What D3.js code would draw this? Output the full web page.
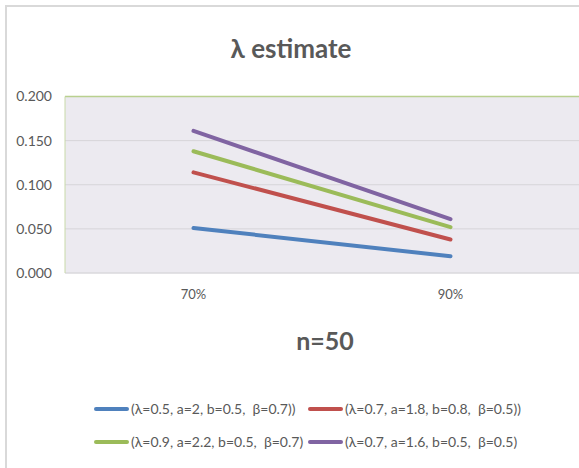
<!DOCTYPE html>
<html>
<head>
<meta charset="utf-8">
<script src="https://cdn.jsdelivr.net/npm/d3@7"></script>
<style>
  html, body { margin: 0; padding: 0; background: #fff; }
  svg { display: block; font-family: Lato, "Open Sans", sans-serif; }
</style>
</head>
<body>
<svg id="chart" width="579" height="468"></svg>
<script>
// Censoring levels on the x axis
const categories = ["70%", "90%"];
// Series labels (parameter settings)
const seriesNames = [
  "(λ=0.5, a=2, b=0.5,  β=0.7))",
  "(λ=0.7, a=1.8, b=0.8,  β=0.5))",
  "(λ=0.9, a=2.2, b=0.5,  β=0.7)",
  "(λ=0.7, a=1.6, b=0.5,  β=0.5)"
];
// Estimated λ per series, one value per category
const seriesA = [0.051, 0.019];
const seriesB = [0.114, 0.038];
const seriesC = [0.138, 0.052];
const seriesD = [0.161, 0.061];
const yTicks = [0, 0.05, 0.1, 0.15, 0.2];
const colors = ["#4F81BD", "#C0504D", "#9BBB59", "#8064A2"];

const series = [seriesA, seriesB, seriesC, seriesD].map((v, i) => ({
  name: seriesNames[i], values: v, color: colors[i]
}));

const svg = d3.select("#chart");
const W = 579, H = 468;

// Outer chart frame
svg.append("rect").attr("x", 6).attr("y", 6).attr("width", W).attr("height", H)
  .attr("fill", "#fff").attr("stroke", "#D9D9D9").attr("stroke-width", 2);

const plot = { left: 65, right: 579, top: 96.5, bottom: 273 };

const x = d3.scaleBand().domain(categories).range([plot.left, plot.right]);
const y = d3.scaleLinear().domain([0, 0.2]).range([plot.bottom, plot.top]);

// Plot background
svg.append("rect")
  .attr("x", plot.left).attr("y", plot.top)
  .attr("width", plot.right - plot.left).attr("height", plot.bottom - plot.top)
  .attr("fill", "#ECEAF0");

// Gridlines
svg.append("g").selectAll("line").data(yTicks.filter(t => t > 0 && t < 0.2)).join("line")
  .attr("x1", plot.left).attr("x2", plot.right)
  .attr("y1", d => y(d)).attr("y2", d => y(d))
  .attr("stroke", "#D6D4D9").attr("stroke-width", 1);

// Bottom edge of plot
svg.append("line").attr("x1", plot.left).attr("x2", plot.right)
  .attr("y1", plot.bottom).attr("y2", plot.bottom)
  .attr("stroke", "#DAD8DD").attr("stroke-width", 1.5);

// Top and left borders
svg.append("line").attr("x1", plot.left).attr("x2", plot.right)
  .attr("y1", plot.top).attr("y2", plot.top)
  .attr("stroke", "#B9D08F").attr("stroke-width", 1.5);
svg.append("line").attr("x1", plot.left).attr("x2", plot.left)
  .attr("y1", plot.top).attr("y2", plot.bottom)
  .attr("stroke", "#C8D9A8").attr("stroke-width", 1);

// Y axis
const yAxis = d3.axisLeft(y).tickValues(yTicks).tickFormat(d3.format(".3f")).tickSize(0).tickPadding(13);
const gy = svg.append("g").attr("transform", `translate(${plot.left},0)`).call(yAxis);
gy.select(".domain").remove();
gy.selectAll("text").attr("fill", "#595959").style("font-size", "14px")
  .style("font-family", "Lato, sans-serif");

// X axis
const xAxis = d3.axisBottom(x).tickSize(0).tickPadding(17);
const gx = svg.append("g").attr("transform", `translate(0,${plot.bottom})`).call(xAxis);
gx.select(".domain").remove();
gx.selectAll("text").attr("fill", "#595959").style("font-size", "13px")
  .style("font-family", "Lato, sans-serif");

// Lines
const line = d3.line()
  .x((d, i) => x(categories[i]) + x.bandwidth() / 2)
  .y(d => y(d));

svg.append("g").selectAll("path").data(series).join("path")
  .attr("d", d => line(d.values))
  .attr("fill", "none")
  .attr("stroke", d => d.color)
  .attr("stroke-width", 4)
  .attr("stroke-linecap", "round");

// Title
svg.append("text").attr("x", 291).attr("y", 58).attr("text-anchor", "middle")
  .attr("fill", "#595959").style("font-size", "26px").style("font-weight", "bold")
  .text("λ estimate");

// Axis title
svg.append("text").attr("x", (plot.left + plot.right) / 2 + 3).attr("y", 350).attr("text-anchor", "middle")
  .attr("fill", "#595959").style("font-size", "25px").style("font-weight", "bold")
  .text("n=50");

// Legend
const legendPos = [[96, 409], [310, 409], [96, 442], [310, 442]];
const lg = svg.append("g").selectAll("g").data(series).join("g")
  .attr("transform", (d, i) => `translate(${legendPos[i][0]},${legendPos[i][1]})`);
lg.append("line").attr("x1", 0).attr("x2", 31).attr("y1", 0).attr("y2", 0)
  .attr("stroke", d => d.color).attr("stroke-width", 4).attr("stroke-linecap", "round");
lg.append("text").attr("x", 35).attr("y", 0).attr("dy", "0.35em")
  .attr("fill", "#595959").style("font-size", "14px").style("white-space", "pre")
  .text(d => d.name);
</script>
</body>
</html>
